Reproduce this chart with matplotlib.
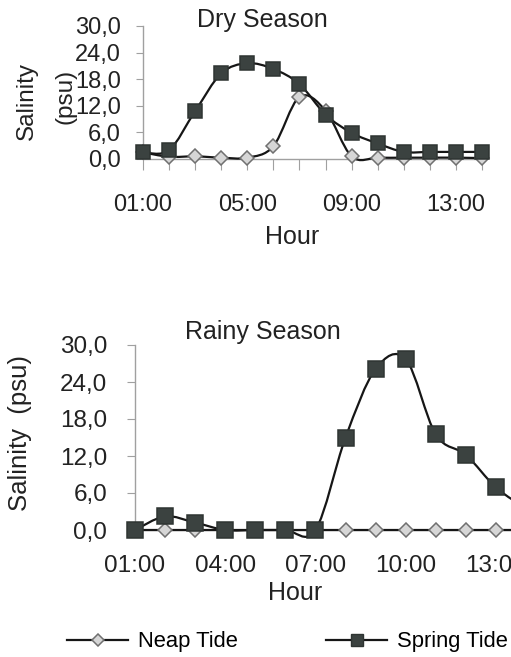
import matplotlib.pyplot as plt
from matplotlib.path import Path
from matplotlib.patches import PathPatch
from matplotlib.lines import Line2D

plt.rcParams['font.family'] = ['Liberation Sans', 'DejaVu Sans']

# data
hours = list(range(1, 15))
dry_neap = [1.5, 0.5, 0.6, 0.3, 0.3, 2.9, 14.0, 10.9, 0.6, 0.3, 0.3, 0.3, 0.3, 0.2]
dry_spring = [1.5, 2.0, 10.8, 19.3, 21.6, 20.3, 16.9, 10.0, 5.9, 3.5, 1.6, 1.6, 1.6, 1.6]
rainy_neap = [0.0, 0.0, 0.0, 0.0, 0.0, 0.0, 0.0, 0.0, 0.0, 0.0, 0.0, 0.0, 0.0, 0.0]
rainy_spring = [0.0, 2.2, 1.2, 0.0, 0.0, 0.0, 0.0, 15.0, 26.1, 27.7, 15.5, 12.2, 6.9, 3.5]
y_ticks = [0, 6, 12, 18, 24, 30]
y_labels = ['0,0', '6,0', '12,0', '18,0', '24,0', '30,0']

W, H = 511, 657
LINE = '#161616'
TXT = '#222222'
SQ_FILL = '#3b4240'
SQ_EDGE = '#2e3432'
DI_FILL = '#d6d6d6'
DI_EDGE = '#707070'
AX_GREY = '#a0a0a0'


def smooth_path(x, y):
    # excel-like smoothed line (catmull-rom as bezier)
    n = len(x)
    verts = [(x[0], y[0])]
    codes = [Path.MOVETO]
    for i in range(n - 1):
        x0, y0 = (x[i - 1], y[i - 1]) if i > 0 else (x[i], y[i])
        x3, y3 = (x[i + 2], y[i + 2]) if i + 2 < n else (x[i + 1], y[i + 1])
        c1 = (x[i] + (x[i + 1] - x0) / 6, y[i] + (y[i + 1] - y0) / 6)
        c2 = (x[i + 1] - (x3 - x[i]) / 6, y[i + 1] - (y3 - y[i]) / 6)
        verts += [c1, c2, (x[i + 1], y[i + 1])]
        codes += [Path.CURVE4] * 3
    return Path(verts, codes)


def draw_series(ax, y, marker, ms, fill, edge, z):
    ax.add_patch(PathPatch(smooth_path(hours, y), fill=False, edgecolor=LINE,
                           linewidth=1.6, zorder=z, clip_on=False))
    ax.plot(hours, y, linestyle='none', marker=marker, markersize=ms,
            markerfacecolor=fill, markeredgecolor=edge, markeredgewidth=1.1,
            zorder=z + 0.5, clip_on=False)


def px_axes(fig, left, right, bottom, top):
    return fig.add_axes([left / W, 1 - bottom / H, (right - left) / W, (bottom - top) / H])


def style_axes(ax, fs, ylen, xlen, ypad, xpad):
    ax.set_xlim(1, 14)
    ax.set_ylim(0, 30)
    for s in ['top', 'right']:
        ax.spines[s].set_visible(False)
    for s in ['left', 'bottom']:
        ax.spines[s].set_color(AX_GREY)
        ax.spines[s].set_linewidth(1.0)
    ax.set_yticks(y_ticks)
    ax.set_yticklabels(y_labels)
    ax.tick_params(axis='y', length=ylen, color=AX_GREY, pad=ypad, labelsize=fs, labelcolor=TXT)
    ax.tick_params(axis='x', length=xlen, color=AX_GREY, pad=xpad, labelsize=fs, labelcolor=TXT)


fig = plt.figure(figsize=(W / 100, H / 100), dpi=100)

# dry season
ax1 = px_axes(fig, 143, 482, 159, 26)
style_axes(ax1, 17, 5, 8, 11, 17)
ax1.set_xticks(hours)
ax1.set_xticklabels([f'{h:02d}:00' if (h - 1) % 4 == 0 else '' for h in hours])
draw_series(ax1, dry_neap, 'D', 6.8, DI_FILL, DI_EDGE, 3)
draw_series(ax1, dry_spring, 's', 9.5, SQ_FILL, SQ_EDGE, 5)
fig.text(262 / W, 1 - 20 / H, 'Dry Season', ha='center', va='center', fontsize=18, color=TXT)
fig.text(27 / W, 1 - 101 / H, 'Salinity', rotation=90, ha='center', va='center', fontsize=17.5, color=TXT)
fig.text(65 / W, 1 - 96 / H, '(psu)', rotation=90, ha='center', va='center', fontsize=17.5, color=TXT)
fig.text(292 / W, 1 - 237 / H, 'Hour', ha='center', va='center', fontsize=18, color=TXT)

# rainy season
ax2 = px_axes(fig, 135, 526, 530, 345)
style_axes(ax2, 17.5, 6, 0, 14, 18)
ax2.set_xticks([1, 4, 7, 10, 13])
ax2.set_xticklabels(['01:00', '04:00', '07:00', '10:00', '13:00'])
draw_series(ax2, rainy_neap, 'D', 7.5, DI_FILL, DI_EDGE, 3)
draw_series(ax2, rainy_spring, 's', 11.5, SQ_FILL, SQ_EDGE, 5)
fig.text(263 / W, 1 - 332 / H, 'Rainy Season', ha='center', va='center', fontsize=18, color=TXT)
fig.text(20 / W, 1 - 433 / H, 'Salinity  (psu)', rotation=90, ha='center', va='center', fontsize=18.5, color=TXT)
fig.text(295 / W, 1 - 593 / H, 'Hour', ha='center', va='center', fontsize=18, color=TXT)

handles = [
    Line2D([], [], color=LINE, linewidth=1.6, marker='D', markersize=6.5,
           markerfacecolor=DI_FILL, markeredgecolor=DI_EDGE, markeredgewidth=1.1),
    Line2D([], [], color=LINE, linewidth=1.6, marker='s', markersize=8.5,
           markerfacecolor=SQ_FILL, markeredgecolor=SQ_EDGE),
]
fig.legend(handles, ['Neap Tide', 'Spring Tide'], loc='center left',
           bbox_to_anchor=(67 / W, 1 - 642 / H), ncol=2, frameon=False,
           fontsize=15.8, handlelength=2.8, handletextpad=0.45, columnspacing=4.0,
           borderpad=0, borderaxespad=0)

fig.savefig('out.png', dpi=100)
